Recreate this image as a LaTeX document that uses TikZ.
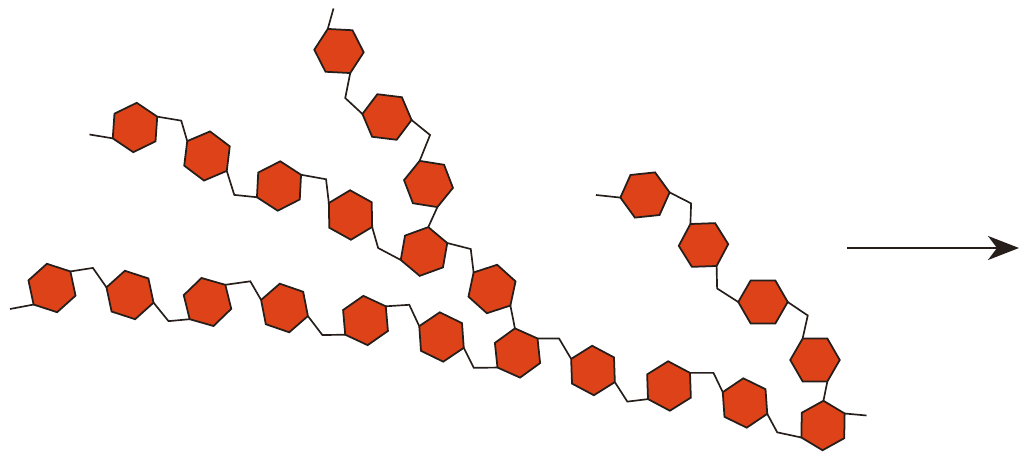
\documentclass[tikz,border=0pt]{standalone}
\usetikzlibrary{shapes.geometric,arrows.meta}
\definecolor{unitfill}{RGB}{222,66,24}
\definecolor{unitline}{RGB}{38,30,26}

\begin{document}
\begin{tikzpicture}[
    sugar/.style={regular polygon, regular polygon sides=6, minimum size=0.99cm,
      inner sep=0pt, outer sep=0pt, draw=unitline, line width=1pt, fill=unitfill},
    bond/.style={draw=unitline, line width=0.95pt}]
  \useasboundingbox (0,0) rectangle (20.4,9.06);

  % main chain
  \node[sugar, rotate=42] (A1) at (1.04,3.30) {};
  \node[sugar, rotate=42] (A2) at (2.60,3.16) {};
  \node[sugar, rotate=44] (A3) at (4.15,3.02) {};
  \node[sugar, rotate=41] (A4) at (5.69,2.90) {};
  \node[sugar, rotate=35] (A5) at (7.31,2.65) {};
  \node[sugar, rotate=34] (A6) at (8.83,2.32) {};
  \node[sugar, rotate=36] (A7) at (10.35,2.00) {};
  \node[sugar, rotate=32] (A8) at (11.86,1.65) {};
  \node[sugar, rotate=32] (A9) at (13.38,1.34) {};
  \node[sugar, rotate=34] (A10) at (14.90,1.00) {};
  \node[sugar, rotate=29] (A11) at (16.46,0.55) {};
  \coordinate (A0) at (0.20,2.88);
  \coordinate (A12) at (17.33,0.75);

  % side chain branching off A7
  \node[sugar, rotate=26] (B1) at (2.70,6.51) {};
  \node[sugar, rotate=23] (B2) at (4.14,5.94) {};
  \node[sugar, rotate=27] (B3) at (5.58,5.34) {};
  \node[sugar, rotate=31] (B4) at (7.01,4.76) {};
  \node[sugar, rotate=20] (B5) at (8.48,4.03) {};
  \node[sugar, rotate=18] (B6) at (9.84,3.28) {};
  \coordinate (B0) at (1.79,6.37);

  % top chain, joins B5
  \node[sugar, rotate=-3] (C1) at (6.78,8.04) {};
  \node[sugar, rotate=-7] (C2) at (7.74,6.72) {};
  \node[sugar, rotate=-9] (C3) at (8.57,5.38) {};
  \coordinate (C0) at (6.67,8.89);

  % right chain, joins A11
  \node[sugar, rotate=6] (D1) at (12.90,5.16) {};
  \node[sugar, rotate=2] (D2) at (14.07,4.16) {};
  \node[sugar, rotate=0] (D3) at (15.26,3.02) {};
  \node[sugar, rotate=0] (D4) at (16.30,1.86) {};
  \coordinate (D0) at (11.92,5.16);

  % bonds of the main chain
  \draw[bond] (A0) -- (A1.180);
  \draw[bond] (A1.0) -- ++(0.45,0.07) -- (A2.120);
  \draw[bond] (A2.300) -- ++(0.30,-0.37) -- (A3.180);
  \draw[bond] (A3.0) -- ++(0.50,0.07) -- (A4.120);
  \draw[bond] (A4.300) -- ++(0.29,-0.38) -- (A5.180);
  \draw[bond] (A5.0) -- ++(0.47,0.03) -- (A6.120);
  \draw[bond] (A6.300) -- ++(0.20,-0.40) -- (A7.180);
  \draw[bond] (A7.0) -- ++(0.43,0) -- (A8.120);
  \draw[bond] (A8.300) -- ++(0.25,-0.39) -- (A9.180);
  \draw[bond] (A9.0) -- ++(0.47,0) -- (A10.120);
  \draw[bond] (A10.300) -- ++(0.20,-0.37) -- (A11.180);
  \draw[bond] (A11.0) -- (A12);

  % bonds of the side chain
  \draw[bond] (B0) -- (B1.180);
  \draw[bond] (B1.0) -- ++(0.48,-0.08) -- (B2.120);
  \draw[bond] (B2.300) -- ++(0.15,-0.48) -- (B3.180);
  \draw[bond] (B3.0) -- ++(0.50,-0.09) -- (B4.120);
  \draw[bond] (B4.300) -- ++(0.12,-0.42) -- (B5.180);
  \draw[bond] (B5.0) -- ++(0.47,-0.12) -- (B6.120);
  \draw[bond] (B6.300) -- (A7.60);

  % bonds of the top chain
  \draw[bond] (C0) -- (C1.120);
  \draw[bond] (C1.300) -- ++(-0.10,-0.50) -- (C2.180);
  \draw[bond] (C2.0) -- ++(0.37,-0.30) -- (C3.120);
  \draw[bond] (C3.300) -- (B5.60);

  % bonds of the right chain
  \draw[bond] (D0) -- (D1.180);
  \draw[bond] (D1.0) -- ++(0.43,-0.22) -- (D2.120);
  \draw[bond] (D2.300) -- ++(0.01,-0.45) -- (D3.180);
  \draw[bond] (D3.0) -- ++(0.40,-0.27) -- (D4.120);
  \draw[bond] (D4.300) -- (A11.60);

  % reaction arrow
  \coordinate (from) at (16.94,4.10);
  \coordinate (to) at (20.38,4.10);
  \draw[line width=1.4pt, draw=unitline,
    -{Stealth[length=0.62cm, width=0.48cm, inset=0.18cm]}] (from) -- (to);
\end{tikzpicture}
\end{document}
